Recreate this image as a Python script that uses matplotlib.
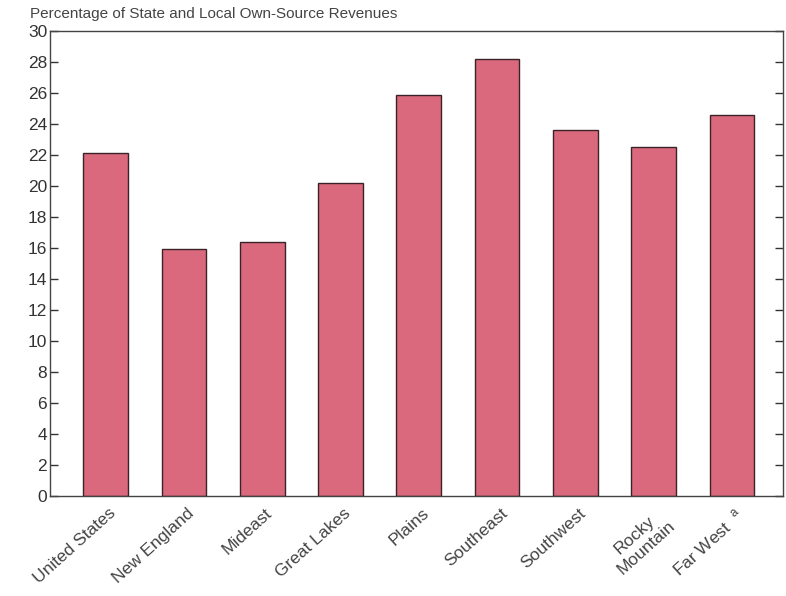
import matplotlib.pyplot as plt
from matplotlib.transforms import ScaledTranslation

plt.rcParams["font.family"] = ["Liberation Sans", "DejaVu Sans"]
plt.rcParams["mathtext.fontset"] = "custom"
plt.rcParams["mathtext.rm"] = "Liberation Sans"

regions = ["United States", "New England", "Mideast", "Great Lakes", "Plains",
           "Southeast", "Southwest", "Rocky\nMountain", "Far West  $^{\\mathrm{a}}$"]
shares = [22.1, 15.9, 16.4, 20.2, 25.9, 28.2, 23.6, 22.5, 24.6]
yticks = list(range(0, 31, 2))

fig = plt.figure(figsize=(7.86, 5.96), dpi=100)
ax = fig.add_axes([0.0636, 0.168, 0.9325, 0.78])

x = range(len(regions))
ax.bar(x, shares, width=0.57, color="#da697d", edgecolor="#3a2226", linewidth=1.0)

ax.set_xlim(-0.71, 8.65)
ax.set_ylim(0, 30)
ax.set_yticks(yticks)
ax.tick_params(axis="y", direction="in", length=6, width=1, color="#333333",
               labelsize=12.5, labelcolor="#333333", right=True, pad=2)
ax.tick_params(axis="x", length=0, pad=7)
ax.set_xticks(list(x))
ax.set_xticklabels(regions, rotation=42, ha="right", rotation_mode="anchor",
                   fontsize=12.5, color="#444444", multialignment="center")
shift = ScaledTranslation(3 / 100, 0, fig.dpi_scale_trans)
for lbl in ax.get_xticklabels():
    lbl.set_transform(lbl.get_transform() + shift)
for s in ax.spines.values():
    s.set_color("#444444")
    s.set_linewidth(1.0)

fig.text(0.038, 0.977, "Percentage of State and Local Own-Source Revenues",
         fontsize=11, color="#444444", va="center", ha="left")

fig.savefig("out.png", dpi=100)
